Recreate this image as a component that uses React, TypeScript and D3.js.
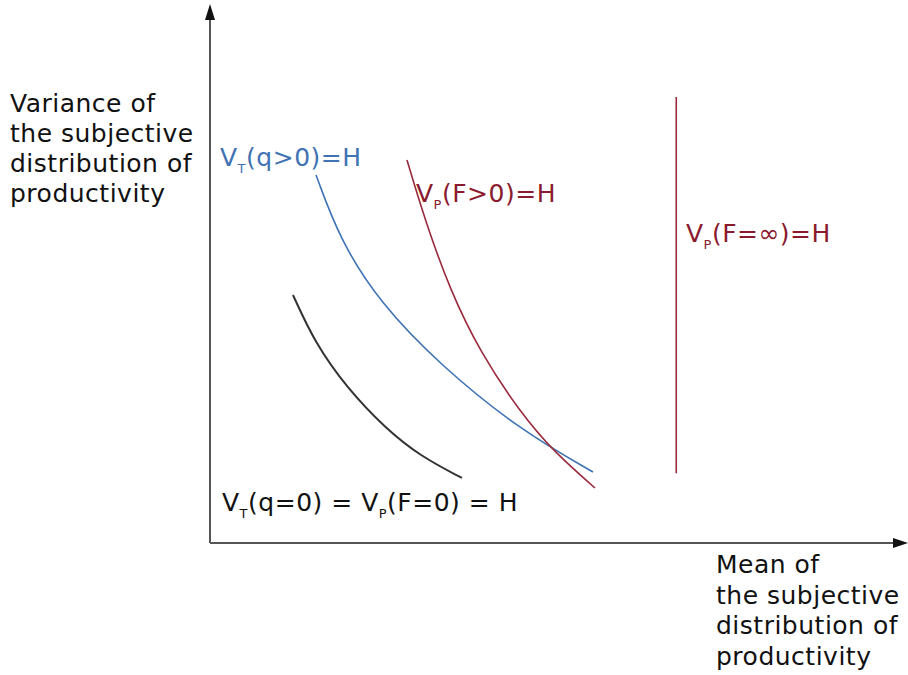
import React from "react";
import * as d3 from "d3";

const W = 908;
const H = 675;

// Curves: [mean, variance] in abstract units
const baseCurve: [number, number][] = [
  [11.89, 46.53], [15.04, 37.52], [19.63, 29.08], [25.07, 21.58], [30.09, 16.32], [36.1, 12.2],
];
const tradeCurve: [number, number][] = [
  [15.19, 69.04], [18.62, 56.85], [24.36, 45.03], [32.95, 33.4], [44.41, 21.2], [54.87, 13.32],
];
const prodCurve: [number, number][] = [
  [28.22, 71.86], [30.8, 60.6], [34.38, 47.47], [38.68, 35.83], [44.41, 24.58], [49.14, 17.26], [55.16, 10.32],
];
const infLine: [number, number][] = [
  [66.8, 83.7], [66.8, 13.1],
];

const yLabelLines = ["Variance of", "the subjective", "distribution of", "productivity"];
const xLabelLines = ["Mean of", "the subjective", "distribution of", "productivity"];

const BLUE = "#3f73b3";
const RED = "#9a2b3e";
const RED_TEXT = "#8a1a2e";
const FONT = "'DejaVu Sans', Verdana, sans-serif";

export default function App() {
  const x = d3.scaleLinear().domain([0, 100]).range([210, 908]);
  const y = d3.scaleLinear().domain([0, 100]).range([543, 10]);
  const line = d3
    .line<[number, number]>()
    .x((d) => x(d[0]))
    .y((d) => y(d[1]))
    .curve(d3.curveBasis);
  const straight = d3.line<[number, number]>().x((d) => x(d[0])).y((d) => y(d[1]));

  const x0 = x(0);
  const y0 = y(0);

  return (
    <svg width={W} height={H} style={{ position: "absolute", left: 0, top: 0, background: "#fff" }}>
      <rect width={W} height={H} fill="#fff" />
      {/* axes */}
      <line x1={x0} y1={y0} x2={x0} y2={18} stroke="#555" strokeWidth={2} />
      <path d={`M${x0},4 L${x0 - 5},20 L${x0 + 5},20 Z`} fill="#111" />
      <line x1={x0} y1={y0} x2={896} y2={y0} stroke="#555" strokeWidth={2} />
      <path d={`M908,${y0} L893,${y0 - 5} L893,${y0 + 5} Z`} fill="#111" />

      {/* curves */}
      <path d={line(baseCurve) || ""} fill="none" stroke="#333" strokeWidth={2} />
      <path d={line(tradeCurve) || ""} fill="none" stroke={BLUE} strokeWidth={1.6} />
      <path d={line(prodCurve) || ""} fill="none" stroke={RED} strokeWidth={1.6} />
      <path d={straight(infLine) || ""} fill="none" stroke={RED} strokeWidth={1.6} />

      <g fontFamily={FONT} fontSize={25} letterSpacing={0.5}>
        {yLabelLines.map((t, i) => (
          <text key={t} x={10} y={112 + i * 30} fill="#111">{t}</text>
        ))}
        {xLabelLines.map((t, i) => (
          <text key={t} x={716} y={573 + i * 30.5} fill="#111">{t}</text>
        ))}

        <text x={220} y={166} fill={BLUE}>
          V<tspan fontSize={13} dy={7}>T</tspan>
          <tspan dy={-7}>(q&gt;0)=H</tspan>
        </text>
        <text x={416} y={202} fill={RED_TEXT}>
          V<tspan fontSize={13} dy={7}>P</tspan>
          <tspan dy={-7}>(F&gt;0)=H</tspan>
        </text>
        <text x={686} y={242} fill={RED_TEXT}>
          V<tspan fontSize={13} dy={7}>P</tspan>
          <tspan dy={-7}>(F=∞)=H</tspan>
        </text>
        <text x={222} y={511} fill="#111">
          V<tspan fontSize={13} dy={7}>T</tspan>
          <tspan dy={-7}>(q=0) = V</tspan>
          <tspan fontSize={13} dy={7}>P</tspan>
          <tspan dy={-7}>(F=0) = H</tspan>
        </text>
      </g>
    </svg>
  );
}
